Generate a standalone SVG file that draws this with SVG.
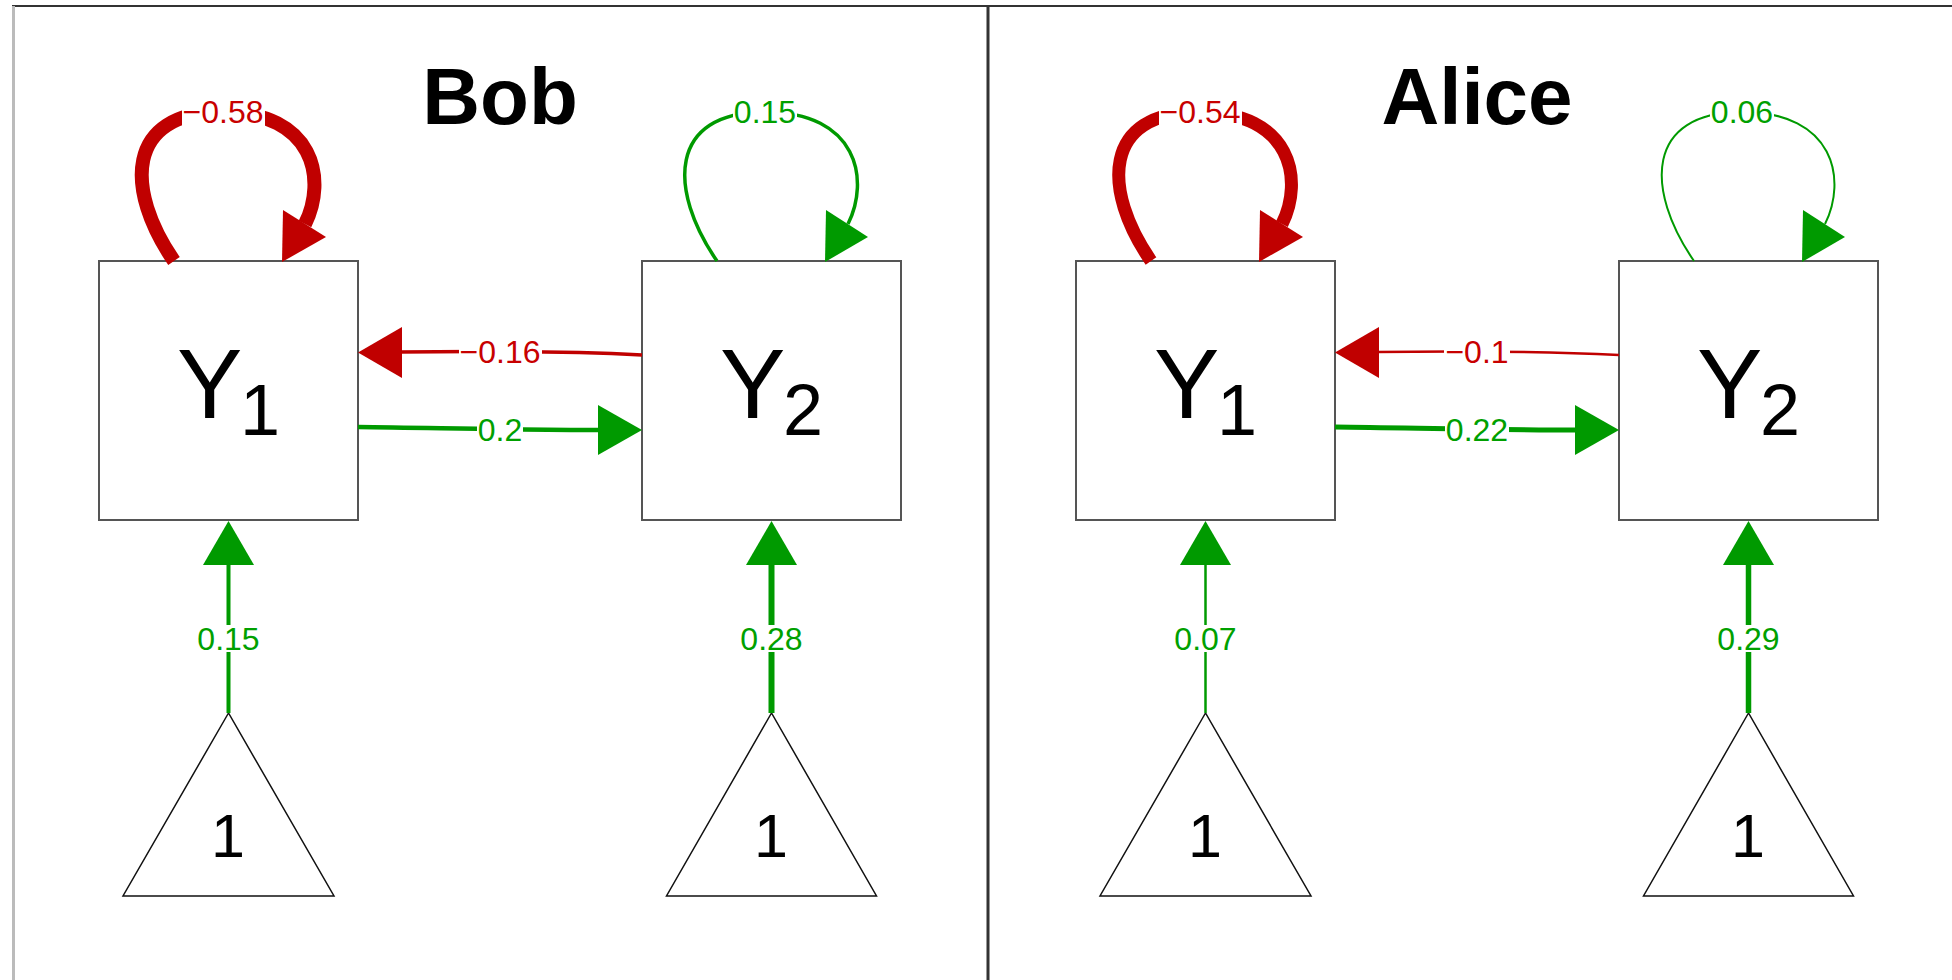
<svg xmlns="http://www.w3.org/2000/svg" width="1952" height="980" viewBox="0 0 1952 980">
<style>
  text { font-family: "Liberation Sans", Arial, sans-serif; }
  .title { font-size: 80px; font-weight: bold; fill: #000; text-anchor: middle; }
  .box { fill: #fff; stroke: #555; stroke-width: 2; }
  .tri { fill: #fff; stroke: #111; stroke-width: 1.5; }
  .nlab { font-size: 98px; fill: #000; }
  .nsub { font-size: 72px; fill: #000; }
  .ilab { font-size: 61px; fill: #000; text-anchor: middle; }
  .e { fill: none; }
  .red { stroke: #C00000; }
  .grn { stroke: #009A00; }
  .hr { fill: #C00000; }
  .hg { fill: #009A00; }
  .lbg { fill: #fff; }
  .el { font-size: 32px; text-anchor: middle; }
  .lr { fill: #C80000; }
  .lg { fill: #00A000; }
</style>
<rect x="0" y="0" width="1952" height="980" fill="#fff"/>
<g id="frame">
  <line x1="12" y1="6" x2="1952" y2="6" stroke="#333" stroke-width="2"/>
  <line x1="13.5" y1="6" x2="13.5" y2="980" stroke="#bbb" stroke-width="3"/>
  <line x1="988" y1="5" x2="988" y2="980" stroke="#333" stroke-width="3"/>
</g>

<!-- Bob panel -->
<g id="bob">
  <text class="title" x="500" y="124">Bob</text>
  <g id="bob-Y1">
    <rect class="box" x="99" y="261" width="259" height="259"/>
    <text x="177" y="418" class="nlab">Y</text><text x="240" y="435" class="nsub">1</text>
  </g>
  <g id="bob-Y2">
    <rect class="box" x="642" y="261" width="259" height="259"/>
    <text x="720" y="418" class="nlab">Y</text><text x="783" y="435" class="nsub">2</text>
  </g>
  <g id="bob-int1">
    <polygon class="tri" points="228.5,713 123,896 334,896"/>
    <text class="ilab" x="228" y="857">1</text>
  </g>
  <g id="bob-int2">
    <polygon class="tri" points="771.5,713 666.5,896 876.5,896"/>
    <text class="ilab" x="771" y="857">1</text>
  </g>
  <g id="bob-connectors">
    <path class="e red" stroke-width="14" d="M174,261 C125,190 125,112 222,112 C315,112 327,180 305,224"/>
    <polygon class="hr" points="282,262 283,210 326,237"/>
    <path class="e grn" stroke-width="3.5" d="M717,261 C668,190 668,112 765,112 C858,112 870,180 848,224"/>
    <polygon class="hg" points="825,262 826,210 868,237"/>
    <path class="e red" stroke-width="3.5" d="M642,355 C560,351 480,351 400,352"/>
    <polygon class="hr" points="358,352.5 402,327 402,378"/>
    <path class="e grn" stroke-width="4.5" d="M358,427 C440,428 520,430 600,430"/>
    <polygon class="hg" points="642,430 598,405 598,455"/>
    <path class="e grn" stroke-width="4" d="M228.5,713 L228.5,563"/>
    <polygon class="hg" points="228.5,521 203,565 254,565"/>
    <path class="e grn" stroke-width="6" d="M771.5,713 L771.5,563"/>
    <polygon class="hg" points="771.5,521 746,565 797,565"/>
    <rect class="lbg" x="182" y="98" width="83" height="28"/>
    <text class="el lr" x="223" y="123">−0.58</text>
    <rect class="lbg" x="733" y="98" width="64" height="28"/>
    <text class="el lg" x="765" y="123">0.15</text>
    <rect class="lbg" x="459" y="338" width="83" height="28"/>
    <text class="el lr" x="500" y="363">−0.16</text>
    <rect class="lbg" x="477" y="416" width="46" height="28"/>
    <text class="el lg" x="500" y="441">0.2</text>
    <rect class="lbg" x="196.5" y="625" width="64" height="27"/>
    <text class="el lg" x="228.5" y="650">0.15</text>
    <rect class="lbg" x="739.5" y="625" width="64" height="27"/>
    <text class="el lg" x="771.5" y="650">0.28</text>
  </g>
</g>

<!-- Alice panel -->
<g id="alice" transform="translate(977,0)">
  <text class="title" x="500" y="124">Alice</text>
  <g id="alice-Y1">
    <rect class="box" x="99" y="261" width="259" height="259"/>
    <text x="177" y="418" class="nlab">Y</text><text x="240" y="435" class="nsub">1</text>
  </g>
  <g id="alice-Y2">
    <rect class="box" x="642" y="261" width="259" height="259"/>
    <text x="720" y="418" class="nlab">Y</text><text x="783" y="435" class="nsub">2</text>
  </g>
  <g id="alice-int1">
    <polygon class="tri" points="228.5,713 123,896 334,896"/>
    <text class="ilab" x="228" y="857">1</text>
  </g>
  <g id="alice-int2">
    <polygon class="tri" points="771.5,713 666.5,896 876.5,896"/>
    <text class="ilab" x="771" y="857">1</text>
  </g>
  <g id="alice-connectors">
    <path class="e red" stroke-width="13" d="M174,261 C125,190 125,112 222,112 C315,112 327,180 305,224"/>
    <polygon class="hr" points="282,262 283,210 326,237"/>
    <path class="e grn" stroke-width="2" d="M717,261 C668,190 668,112 765,112 C858,112 870,180 848,224"/>
    <polygon class="hg" points="825,262 826,210 868,237"/>
    <path class="e red" stroke-width="2.5" d="M642,355 C560,351 480,351 400,352"/>
    <polygon class="hr" points="358,352.5 402,327 402,378"/>
    <path class="e grn" stroke-width="5" d="M358,427 C440,428 520,430 600,430"/>
    <polygon class="hg" points="642,430 598,405 598,455"/>
    <path class="e grn" stroke-width="2.5" d="M228.5,713 L228.5,563"/>
    <polygon class="hg" points="228.5,521 203,565 254,565"/>
    <path class="e grn" stroke-width="5.5" d="M771.5,713 L771.5,563"/>
    <polygon class="hg" points="771.5,521 746,565 797,565"/>
    <rect class="lbg" x="182" y="98" width="83" height="28"/>
    <text class="el lr" x="223" y="123">−0.54</text>
    <rect class="lbg" x="733" y="98" width="64" height="28"/>
    <text class="el lg" x="765" y="123">0.06</text>
    <rect class="lbg" x="467" y="338" width="66" height="28"/>
    <text class="el lr" x="500" y="363">−0.1</text>
    <rect class="lbg" x="468" y="416" width="64" height="28"/>
    <text class="el lg" x="500" y="441">0.22</text>
    <rect class="lbg" x="196.5" y="625" width="64" height="27"/>
    <text class="el lg" x="228.5" y="650">0.07</text>
    <rect class="lbg" x="739.5" y="625" width="64" height="27"/>
    <text class="el lg" x="771.5" y="650">0.29</text>
  </g>
</g>
</svg>
